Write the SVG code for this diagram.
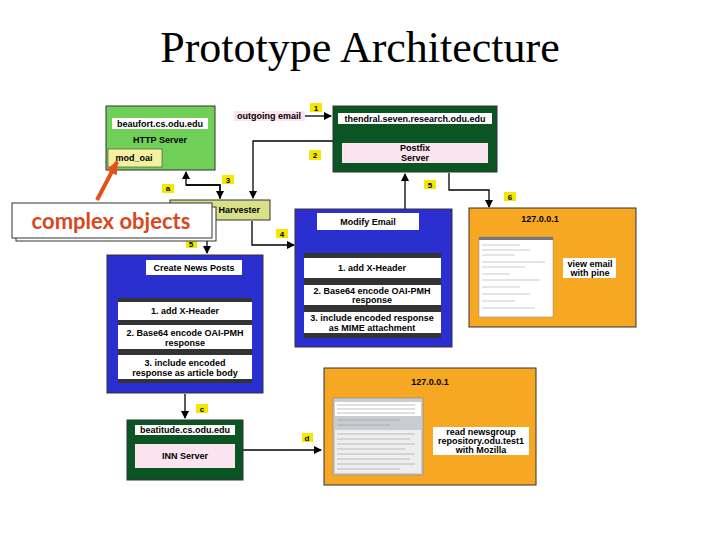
<svg xmlns="http://www.w3.org/2000/svg" width="720" height="540" viewBox="0 0 720 540">
<defs>
<marker id="ah" markerWidth="8" markerHeight="8" refX="7" refY="4" orient="auto" markerUnits="userSpaceOnUse"><path d="M0,0 L8,4 L0,8 Z" fill="#000"/></marker>
<marker id="oa" markerWidth="14" markerHeight="12" refX="12" refY="6" orient="auto" markerUnits="userSpaceOnUse"><path d="M0,0 L14,6 L0,12 Z" fill="#e2531c"/></marker>
</defs>
<style>
text{font-family:"Liberation Sans",Arial,sans-serif;font-weight:bold;font-size:9px;fill:#000;text-anchor:middle}
.sh{stroke:#333;stroke-width:1}
.w{fill:#fff}
.lab{fill:#f5e800}
.ln{fill:none;stroke:#000;stroke-width:1.3}
.band{fill:#333}
</style>
<rect width="720" height="540" fill="#fff"/>
<text x="360" y="62" style="font-family:'Liberation Serif',serif;font-weight:normal;font-size:44px">Prototype Architecture</text>

<g id="connectors">
<path class="ln" d="M305,116 H331" marker-end="url(#ah)"/>
<path class="ln" d="M333,141 H253 V198" marker-end="url(#ah)"/>
<path class="ln" d="M220,199 V185 H186 V172" marker-end="url(#ah)"/>
<path class="ln" d="M186,185 H220 V198" marker-end="url(#ah)"/>
<path class="ln" d="M252,221 V245 H294" marker-end="url(#ah)"/>
<path class="ln" d="M207,221 V253" marker-end="url(#ah)"/>
<path class="ln" d="M405,209 V174" marker-end="url(#ah)"/>
<path class="ln" d="M449,173 V190 H489 V207" marker-end="url(#ah)"/>
<path class="ln" d="M185,394 V418" marker-end="url(#ah)"/>
<path class="ln" d="M243,450 H321" marker-end="url(#ah)"/>
<rect class="lab" x="310" y="103" width="12" height="9"/><text x="316" y="111" style="font-size:8px">1</text>
<rect class="lab" x="309" y="150" width="12" height="10"/><text x="315" y="158" style="font-size:8px">2</text>
<rect class="lab" x="222" y="175" width="12" height="9"/><text x="228" y="183" style="font-size:8px">3</text>
<rect class="lab" x="162" y="184" width="12" height="9"/><text x="168" y="191" style="font-size:8px">a</text>
<rect class="lab" x="276" y="229" width="12" height="9"/><text x="282" y="237" style="font-size:8px">4</text>
<rect class="lab" x="186" y="240" width="11" height="8"/><text x="191" y="247" style="font-size:8px">5</text>
<rect class="lab" x="424" y="180" width="12" height="9"/><text x="430" y="188" style="font-size:8px">5</text>
<rect class="lab" x="504" y="192" width="12" height="9"/><text x="510" y="200" style="font-size:8px">6</text>
<rect class="lab" x="196" y="404" width="12" height="9"/><text x="202" y="412" style="font-size:8px">c</text>
<rect class="lab" x="302" y="433" width="11" height="9"/><text x="307" y="441" style="font-size:8px">d</text>
<rect x="234" y="111" width="71" height="10" fill="#fbe3ef"/><text x="269" y="119">outgoing email</text>
</g>

<g id="http">
<rect class="sh" x="106" y="106" width="109" height="64" fill="#6fcf57"/>
<rect class="w" x="112" y="118" width="96" height="11"/><text x="160" y="127">beaufort.cs.odu.edu</text>
<text x="160" y="143">HTTP Server</text>
<rect x="108" y="149" width="54" height="18" fill="#f4f0a0" stroke="#555" stroke-width="0.7"/><text x="134" y="161">mod_oai</text>
</g>

<g id="postfix">
<rect class="sh" x="333" y="106" width="164" height="66" fill="#0b5524"/>
<rect class="w" x="338" y="113" width="154" height="11"/><text x="415" y="122">thendral.seven.research.odu.edu</text>
<rect x="342" y="143" width="146" height="20" fill="#fbe3ef"/><text x="415" y="151">Postfix</text><text x="415" y="161">Server</text>
</g>

<g id="harvester">
<rect class="sh" x="170" y="200" width="100" height="20" fill="#d8e08a"/><text x="230" y="213">OAI Harvester</text>
</g>

<g id="callout">
<path d="M97,200 L117,162" stroke="#e2531c" stroke-width="4" fill="none" marker-end="url(#oa)"/>
<rect x="16" y="207" width="200" height="34" fill="#fff" stroke="#333"/>
<rect x="12" y="203" width="200" height="35" fill="#fff" stroke="#333"/>
<text x="111" y="229" style="font-family:Lato,'Open Sans',sans-serif;font-weight:bold;font-size:22px;fill:#d9471e">complex objects</text>
</g>

<g id="modify">
<rect class="sh" x="295" y="209" width="157" height="138" fill="#2b2fd0"/>
<rect class="w" x="317" y="213" width="102" height="17"/><text x="368" y="225">Modify Email</text>
<rect class="band" x="304" y="253" width="137" height="85"/>
<rect class="w" x="304" y="258" width="137" height="20"/><text x="372" y="271">1. add X-Header</text>
<rect class="w" x="304" y="285" width="137" height="20"/><text x="372" y="294">2. Base64 encode OAI-PMH</text><text x="372" y="303">response</text>
<rect class="w" x="304" y="312" width="137" height="21"/><text x="372" y="321">3. include encoded response</text><text x="372" y="331">as MIME attachment</text>
</g>

<g id="news">
<rect class="sh" x="107" y="255" width="156" height="138" fill="#2b2fd0"/>
<rect class="w" x="146" y="260" width="96" height="15"/><text x="194" y="271">Create News Posts</text>
<rect class="band" x="118" y="298" width="134" height="85"/>
<rect class="w" x="118" y="302" width="134" height="18"/><text x="185" y="314">1. add X-Header</text>
<rect class="w" x="118" y="325" width="134" height="24"/><text x="185" y="336">2. Base64 encode OAI-PMH</text><text x="185" y="346">response</text>
<rect class="w" x="118" y="355" width="134" height="24"/><text x="185" y="366">3. include encoded</text><text x="185" y="376">response as article body</text>
</g>

<g id="pine">
<rect class="sh" x="469" y="208" width="167" height="119" fill="#f7a823"/>
<text x="540" y="222">127.0.0.1</text>
<rect x="479" y="237" width="74" height="80" fill="#fff" stroke="#888" stroke-width="0.5"/>
<rect x="479" y="237" width="74" height="3" fill="#777"/>
<g stroke="#aaa" stroke-width="0.6">
<path d="M482,245 H520 M482,250 H530 M482,255 H515 M482,262 H545 M482,267 H525 M482,274 H510 M482,280 H540 M482,287 H520 M482,294 H530 M482,301 H515 M482,308 H535"/>
</g>
<rect class="w" x="563" y="258" width="53" height="20"/><text x="590" y="267">view email</text><text x="590" y="276">with pine</text>
</g>

<g id="inn">
<rect class="sh" x="127" y="420" width="116" height="60" fill="#0b5524"/>
<rect class="w" x="135" y="425" width="100" height="10"/><text x="185" y="433">beatitude.cs.odu.edu</text>
<rect x="135" y="444" width="100" height="24" fill="#fbe3ef"/><text x="185" y="459">INN Server</text>
</g>

<g id="mozilla">
<rect class="sh" x="324" y="368" width="212" height="117" fill="#f7a823"/>
<text x="430" y="385">127.0.0.1</text>
<rect x="333" y="398" width="90" height="77" fill="#c9ccd2" stroke="#777" stroke-width="0.5"/>
<rect x="335" y="402" width="86" height="14" fill="#fff"/>
<rect x="335" y="430" width="86" height="43" fill="#eee"/>
<g stroke="#999" stroke-width="0.6">
<path d="M337,405 H415 M337,409 H415 M337,413 H415 M337,420 H400 M337,425 H390 M337,434 H415 M337,439 H410 M337,444 H415 M337,449 H405 M337,454 H415 M337,459 H410 M337,464 H415 M337,469 H400"/>
</g>
<rect class="w" x="433" y="427" width="96" height="28"/><text x="481" y="435">read newsgroup</text><text x="481" y="444">repository.odu.test1</text><text x="481" y="453">with Mozilla</text>
</g>
</svg>
